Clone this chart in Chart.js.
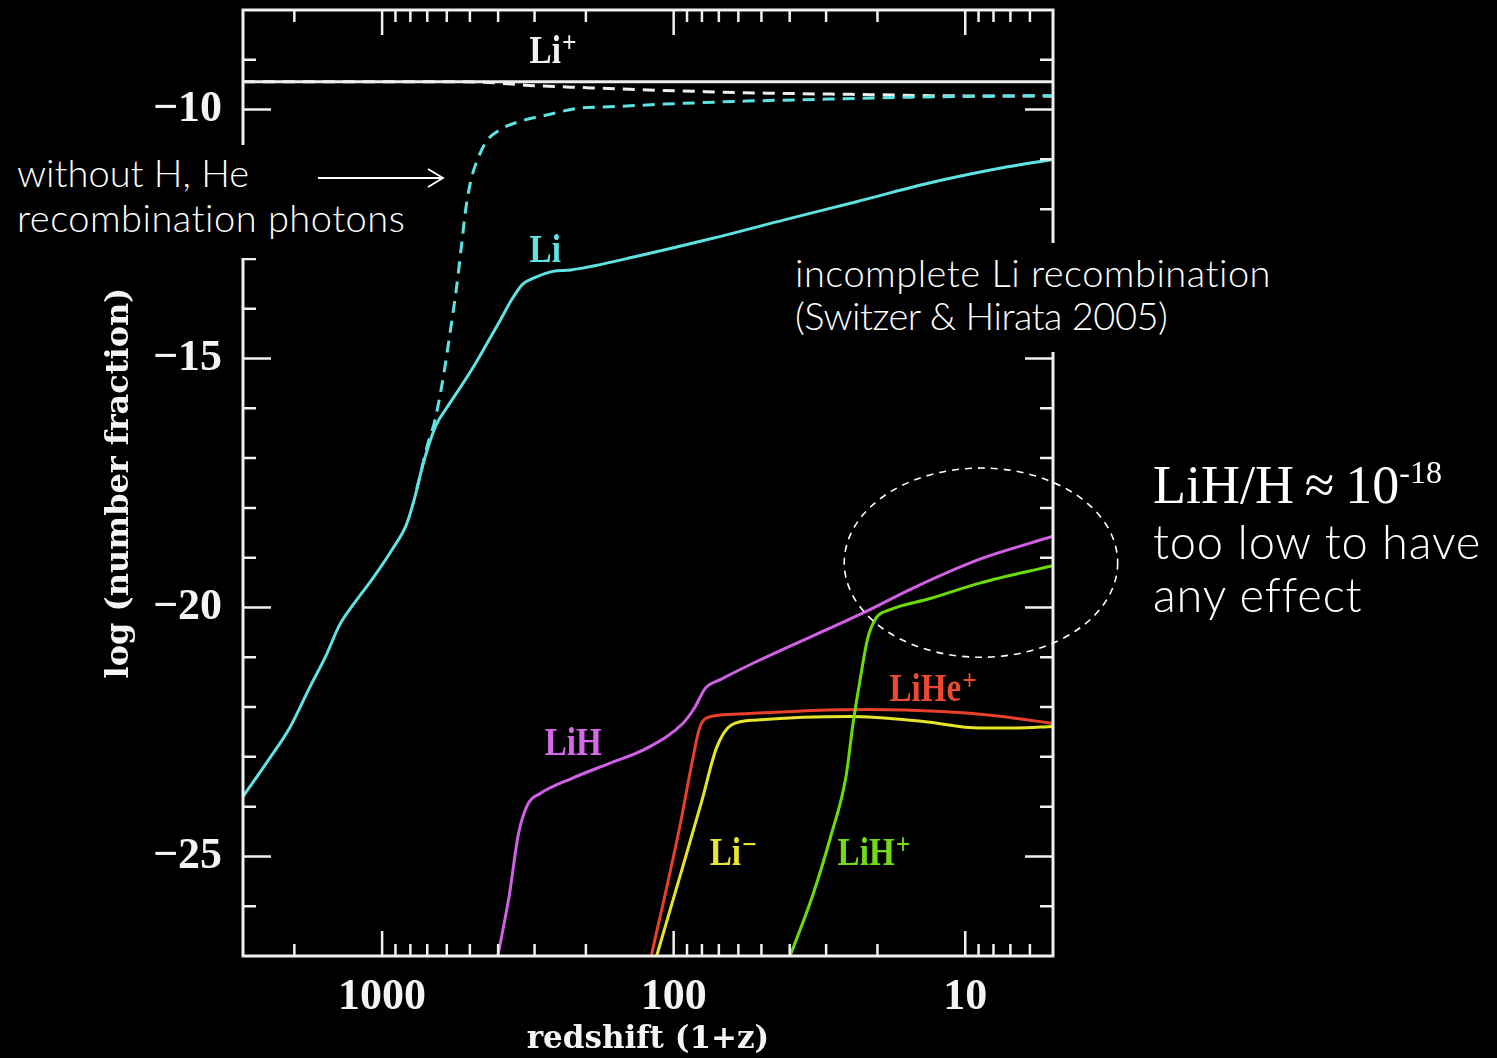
<!DOCTYPE html>
<html>
<head>
<meta charset="utf-8">
<script src="https://cdn.jsdelivr.net/npm/chart.js@4.4.1/dist/chart.umd.min.js"></script>
<style>
  html, body { margin: 0; padding: 0; background: #000; }
  #wrap { position: relative; width: 1497px; height: 1058px; overflow: hidden; }
  #chart { position: absolute; left: 0; top: 0; }
  .box { position: absolute; background: #000; }
  .note { position: absolute; color: #fff; font-family: Lato, "Open Sans", sans-serif; font-weight: 300; white-space: nowrap; line-height: 1; }
  .serif { font-family: "Liberation Serif", "Times New Roman", serif; font-weight: 400; }
</style>
</head>
<body>
<div id="wrap">
  <canvas id="chart" width="1497" height="1058"></canvas>

  <div class="box" style="left:0;top:145px;width:456px;height:113px;"></div>
  <div class="note" style="left:17px;top:153px;font-size:38px;">without H, He</div>
  <div class="note" style="left:17px;top:198px;font-size:38px;letter-spacing:0.5px;">recombination photons</div>
  <svg style="position:absolute;left:310px;top:165px;" width="140" height="26">
    <path d="M8 13 H133 M118 4 L133 13 L118 22" stroke="#fff" stroke-width="1.8" fill="none"/>
  </svg>

  <div class="box" style="left:785px;top:243px;width:490px;height:109px;"></div>
  <div class="note" style="left:795px;top:253px;font-size:38px;letter-spacing:0.5px;">incomplete Li recombination</div>
  <div class="note" style="left:795px;top:296px;font-size:38px;letter-spacing:-0.5px;">(Switzer &amp; Hirata 2005)</div>

  <div class="note serif" style="left:1153px;top:458px;font-size:54px;">LiH/H&#8201;&#8776;&#8201;10<span style="font-size:32px;position:relative;top:-20px;">-18</span></div>
  <div class="note" style="left:1153px;top:518px;font-size:47px;letter-spacing:0.8px;">too low to have</div>
  <div class="note" style="left:1153px;top:571px;font-size:47px;letter-spacing:0.8px;">any effect</div>
</div>

<script>
// redshift (1+z) and log10(number fraction)
const liPlusZ = [3000, 5];
const liPlusLog = [-9.44, -9.44];

const liPlusNoPhotZ = [3000, 600, 450, 300, 200, 130, 78, 48, 21, 13, 5];
const liPlusNoPhotLog = [-9.44, -9.44, -9.45, -9.52, -9.56, -9.60, -9.64, -9.67, -9.70, -9.72, -9.73];

const liZ = [3000, 2432, 2076, 1773, 1553, 1399, 1259, 1075, 918, 826, 774, 735, 697, 652, 602, 542, 489, 439, 396, 357, 330, 298, 260, 225, 128, 72.9, 41.4, 23.6, 13.4, 7.62, 5];
const liLog = [-23.80, -23.03, -22.42, -21.61, -20.95, -20.35, -19.95, -19.41, -18.81, -18.34, -17.81, -17.27, -16.80, -16.33, -16.00, -15.60, -15.19, -14.72, -14.26, -13.79, -13.51, -13.37, -13.25, -13.22, -12.92, -12.58, -12.21, -11.85, -11.48, -11.18, -11.00];

const liNoPhotZ = [760, 735, 700, 661, 618, 586, 556, 534, 514, 494, 469, 439, 396, 338, 273, 210, 174, 107, 56.6, 29.6, 15.5, 8.2, 5];
const liNoPhotLog = [-17.62, -17.27, -16.75, -16.27, -15.40, -14.52, -13.59, -12.72, -11.91, -11.38, -10.98, -10.64, -10.41, -10.24, -10.11, -9.97, -9.95, -9.89, -9.83, -9.79, -9.75, -9.73, -9.72];

const lihZ = [413, 400, 366, 341, 317, 286, 223, 166, 124, 92.7, 84.9, 77.8, 69.2, 51.7, 22.4, 15.1, 8.91, 5];
const lihLog = [-27.4, -26.97, -25.77, -24.56, -23.96, -23.73, -23.43, -23.13, -22.83, -22.32, -22.02, -21.62, -21.45, -21.08, -20.11, -19.61, -19.03, -18.57];

const lihPlusZ = [42.3, 39.7, 33.3, 28.8, 25.7, 24.2, 23.0, 21.6, 20.2, 18.2, 13.2, 8.92, 5];
const lihPlusLog = [-27.4, -26.97, -25.77, -24.56, -23.43, -22.29, -21.49, -20.62, -20.21, -20.05, -19.82, -19.51, -19.16];

const liHePlusZ = [123, 119, 107, 95.5, 86.3, 81.5, 74.7, 59.9, 33.4, 21.5, 12.0, 7.74, 5];
const liHePlusLog = [-27.4, -26.97, -25.77, -24.43, -23.09, -22.42, -22.19, -22.14, -22.07, -22.05, -22.09, -22.18, -22.33];

const liMinusZ = [119.7, 114, 95.5, 80.2, 71.3, 63.4, 51.7, 24.9, 13.9, 8.96, 6.68, 5];
const liMinusLog = [-27.4, -26.97, -25.43, -23.90, -22.82, -22.36, -22.26, -22.19, -22.29, -22.42, -22.42, -22.39];

const xTickLabels = [1000, 100, 10];
const yTickLabels = [-10, -15, -20, -25];

// curve labels: [text, superscript, 1+z at left edge, log at baseline, colour]
const curveLabels = [
  ['Li', '+', 312, -9.06, '#f2f2f2'],
  ['Li', '', 312, -13.07, '#5fe3e3'],
  ['LiH', '', 277, -22.97, '#d868ea'],
  ['LiHe', '+', 18.2, -21.87, '#ec4a30'],
  ['Li', '\u2212', 75.2, -25.18, '#eae62e'],
  ['LiH', '+', 27.4, -25.18, '#72dc12']
];

const pts = (zs, ls) => zs.map((z, i) => ({ x: z, y: ls[i] }));

const datasets = [
  { data: pts(lihPlusZ, lihPlusLog), borderColor: '#6cdc08' },
  { data: pts(liMinusZ, liMinusLog), borderColor: '#e6e42a' },
  { data: pts(liHePlusZ, liHePlusLog), borderColor: '#e9402c' },
  { data: pts(lihZ, lihLog), borderColor: '#d260e6' },
  { data: pts(liZ, liLog), borderColor: '#5ee2e2' },
  { data: pts(liNoPhotZ, liNoPhotLog), borderColor: '#5ee2e2', borderDash: [12, 8] },
  { data: pts(liPlusNoPhotZ, liPlusNoPhotLog), borderColor: '#eeeeee', borderDash: [12, 8] },
  { data: pts(liPlusZ, liPlusLog), borderColor: '#eeeeee' }
];

const serifBold = '"Liberation Serif", "Times New Roman", serif';
const titleFont = '"DejaVu Serif", "Liberation Serif", serif';

const framePlugin = {
  id: 'frame',
  afterDatasetsDraw(chart) {
    const { ctx, chartArea: a, scales: { x, y } } = chart;
    ctx.save();
    ctx.strokeStyle = '#f0f0f0';
    ctx.lineWidth = 3;
    ctx.strokeRect(a.left, a.top, a.right - a.left, a.bottom - a.top);
    ctx.lineWidth = 2.5;
    ctx.beginPath();
    for (let e = 0; e <= 3; e++) {
      for (let m = 1; m <= 9; m++) {
        const v = m * Math.pow(10, e);
        if (v <= x.min || v >= x.max) continue;
        const px = x.getPixelForValue(v);
        const len = m === 1 ? 25 : 12;
        ctx.moveTo(px, a.top); ctx.lineTo(px, a.top + len);
        ctx.moveTo(px, a.bottom); ctx.lineTo(px, a.bottom - len);
      }
    }
    for (let v = y.min + 1; v < y.max; v++) {
      const py = y.getPixelForValue(v);
      const len = v % 5 === 0 ? 28 : 13;
      ctx.moveTo(a.left, py); ctx.lineTo(a.left + len, py);
      ctx.moveTo(a.right, py); ctx.lineTo(a.right - len, py);
    }
    ctx.stroke();
    ctx.restore();
  },
  afterDraw(chart) {
    const { ctx, scales: { x, y } } = chart;
    ctx.save();
    const sx = 0.85;
    curveLabels.forEach(([txt, sup, z, l, col]) => {
      const px = x.getPixelForValue(z), py = y.getPixelForValue(l);
      ctx.fillStyle = col;
      ctx.textBaseline = 'alphabetic';
      ctx.font = 'bold 39px ' + serifBold;
      const w = ctx.measureText(txt).width * sx;
      ctx.save();
      ctx.translate(px, py); ctx.scale(sx, 1);
      ctx.fillText(txt, 0, 0);
      ctx.restore();
      if (sup) {
        ctx.font = 'bold 30px ' + serifBold;
        ctx.save();
        ctx.translate(px + w + 1, py - 11); ctx.scale(sx, 1);
        ctx.fillText(sup, 0, 0);
        ctx.restore();
      }
    });
    // dashed ellipse around the low-z molecules
    const x0 = x.getPixelForValue(26), x1 = x.getPixelForValue(3);
    const y0 = y.getPixelForValue(-17.2), y1 = y.getPixelForValue(-21.0);
    ctx.strokeStyle = '#ffffff';
    ctx.lineWidth = 1.6;
    ctx.setLineDash([7, 6]);
    ctx.beginPath();
    ctx.ellipse((x0 + x1) / 2, (y0 + y1) / 2, Math.abs(x1 - x0) / 2, Math.abs(y1 - y0) / 2, 0, 0, Math.PI * 2);
    ctx.stroke();
    ctx.restore();
  }
};

new Chart(document.getElementById('chart'), {
  type: 'line',
  data: { datasets },
  options: {
    responsive: false,
    devicePixelRatio: 1,
    animation: false,
    layout: { padding: { left: 0, right: 444, top: 10, bottom: 0 } },
    plugins: { legend: { display: false }, tooltip: { enabled: false } },
    elements: {
      point: { radius: 0 },
      line: { borderWidth: 3, cubicInterpolationMode: 'monotone', fill: false }
    },
    scales: {
      x: {
        type: 'logarithmic',
        reverse: true,
        min: 5,
        max: 3000,
        grid: { display: false, drawTicks: false },
        border: { display: false },
        afterBuildTicks: s => { s.ticks = xTickLabels.map(v => ({ value: v })); },
        afterFit: s => { s.height = 102; s.paddingLeft = 0; s.paddingRight = 0; },
        ticks: {
          color: '#f4f4f4',
          autoSkip: false,
          maxRotation: 0,
          padding: 15,
          font: { family: serifBold, size: 44, weight: 'bold' },
          callback: v => String(v)
        },
        title: {
          display: true,
          text: 'redshift (1+z)',
          color: '#f4f4f4',
          font: { family: titleFont, size: 31, weight: 'bold', lineHeight: 1 },
          padding: { top: 0, bottom: 3 }
        }
      },
      y: {
        type: 'linear',
        min: -27,
        max: -8,
        grid: { display: false, drawTicks: false },
        border: { display: false },
        afterBuildTicks: s => { s.ticks = yTickLabels.map(v => ({ value: v })); },
        afterFit: s => { s.width = 243; s.paddingTop = 0; s.paddingBottom = 0; },
        ticks: {
          color: '#f4f4f4',
          padding: 21,
          font: { family: serifBold, size: 44, weight: 'bold' },
          callback: v => '\u2212' + Math.abs(v)
        },
        title: {
          display: true,
          text: 'log (number fraction)',
          color: '#f4f4f4',
          font: { family: titleFont, size: 32, weight: 'bold', lineHeight: 1 },
          padding: { top: 104, bottom: 0 }
        }
      }
    }
  },
  plugins: [framePlugin]
});
</script>
</body>
</html>
